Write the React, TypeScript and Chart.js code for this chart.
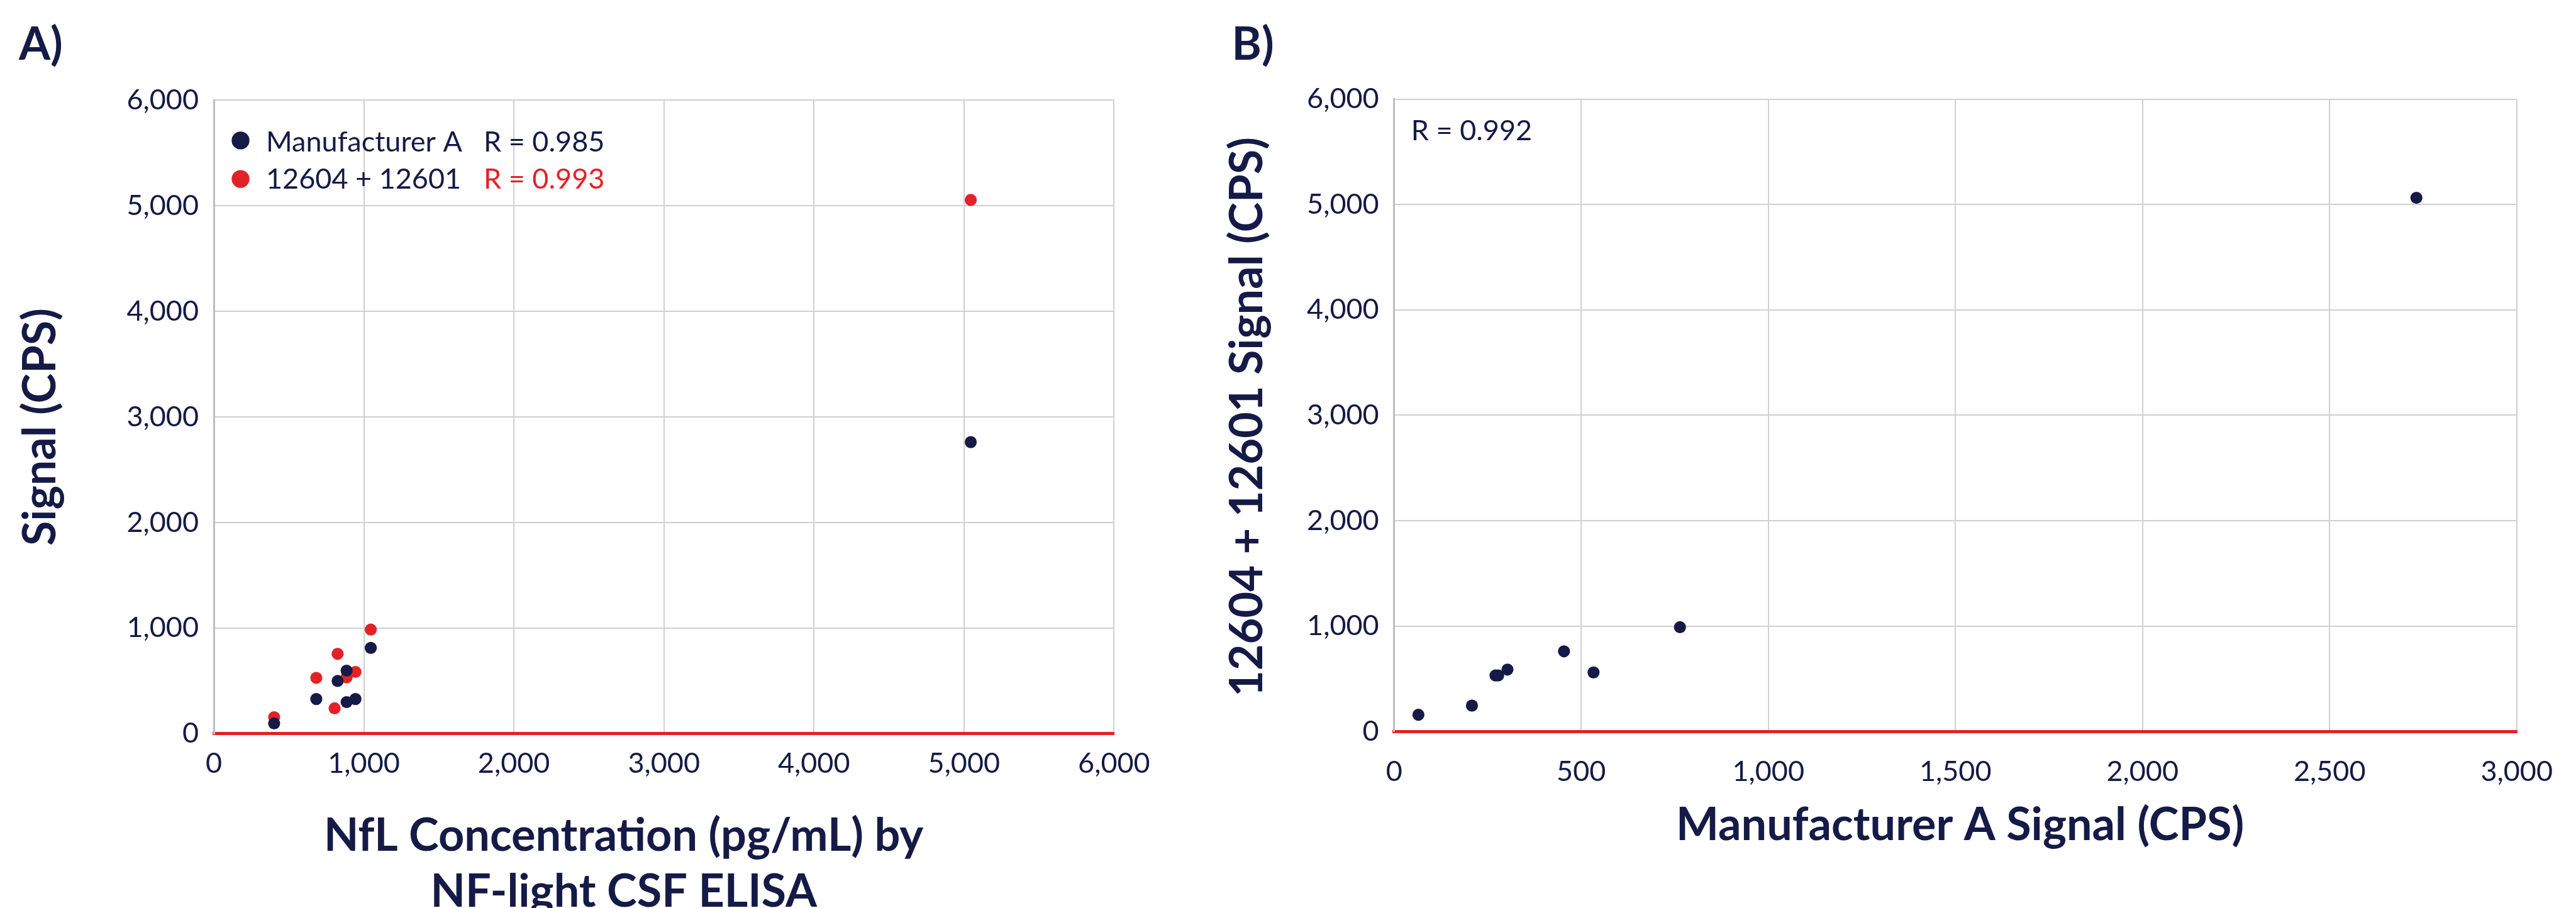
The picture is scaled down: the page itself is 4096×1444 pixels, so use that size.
import React, { useEffect, useRef } from "react";
import { Chart, registerables } from "chart.js";
Chart.register(...registerables);

// ---------- data ----------
// Chart A: NfL concentration (x) vs signal (y)
const concManufA = [402, 683, 825, 885, 885, 944, 1046, 5045];
const signalManufA = [98, 329, 500, 598, 300, 329, 813, 2762];
const conc12604 = [402, 683, 825, 885, 944, 805, 1046, 5045];
const signal12604 = [157, 529, 757, 534, 586, 241, 987, 5056];
// Chart B: Manufacturer A signal (x) vs 12604 + 12601 signal (y)
const bManufASignal = [65, 208, 271, 278, 303, 454, 533, 764, 2732];
const b12604Signal = [158, 245, 531, 531, 587, 760, 560, 989, 5064];
// ticks
const aXTicks = [0, 1000, 2000, 3000, 4000, 5000, 6000];
const aYTicks = [0, 1000, 2000, 3000, 4000, 5000, 6000];
const bXTicks = [0, 500, 1000, 1500, 2000, 2500, 3000];
const bYTicks = [0, 1000, 2000, 3000, 4000, 5000, 6000];
const seriesNames = ["Manufacturer A", "12604 + 12601"];
const rValuesA = ["R = 0.985", "R = 0.993"];
const rValueB = "R = 0.992";

// ---------- style ----------
const H = 1444;
const NAVY = "#151a46";
const RED = "#e32228";
const GRID = "#d0d0d0";
const AXIS = "#bcbebe";
const FONT = "Lato, 'Open Sans', sans-serif";
const TICK_SIZE = 45;
const TITLE_SIZE = 72;

const A_W = 1950;
const B_LEFT = 1900;
const B_W = 4096 - B_LEFT;

const A_AREA = { left: 340, right: 1771.4, top: 159.4, bottom: 1166.9 };
const B_AREA = { left: 2216.7 - B_LEFT, right: 4030.4 - B_LEFT, top: 157.7, bottom: 1163.2 };

const fmt = (v: any) => Number(v).toLocaleString("en-US");

function makeScale(
  axis: "x" | "y",
  ticksArr: number[],
  area: any,
  pad: number
): any {
  const isX = axis === "x";
  return {
    type: "linear",
    min: ticksArr[0],
    max: ticksArr[ticksArr.length - 1],
    afterBuildTicks: (s: any) => {
      s.ticks = ticksArr.map((v) => ({ value: v }));
    },
    afterFit: (s: any) => {
      if (isX) s.height = H - area.bottom;
      else s.width = area.left;
    },
    grid: {
      color: (c: any) => (c.tick && c.tick.value === 0 ? "rgba(0,0,0,0)" : GRID),
      lineWidth: 2,
      drawTicks: false,
    },
    border: isX ? { color: RED, width: 5 } : { color: AXIS, width: 3 },
    ticks: {
      color: NAVY,
      font: { family: FONT, size: TICK_SIZE },
      padding: pad,
      maxRotation: 0,
      autoSkip: false,
      callback: (v: any) => fmt(v),
    },
  };
}

function textPlugin(draw: (ctx: CanvasRenderingContext2D) => void) {
  return {
    id: "customTexts",
    afterDraw(chart: any) {
      const ctx = chart.ctx as CanvasRenderingContext2D;
      ctx.save();
      draw(ctx);
      ctx.restore();
    },
  };
}

function drawText(
  ctx: CanvasRenderingContext2D,
  text: string,
  x: number,
  y: number,
  opts: { size: number; bold?: boolean; color?: string; align?: CanvasTextAlign; rotate?: boolean }
) {
  ctx.save();
  ctx.font = `${opts.bold ? "bold " : ""}${opts.size}px ${FONT}`;
  ctx.fillStyle = opts.color || NAVY;
  ctx.textAlign = opts.align || "left";
  ctx.textBaseline = "alphabetic";
  ctx.translate(x, y);
  if (opts.rotate) ctx.rotate(-Math.PI / 2);
  ctx.fillText(text, 0, 0);
  ctx.restore();
}

function configA(): any {
  return {
    type: "scatter",
    data: {
      datasets: [
        {
          label: seriesNames[0],
          data: concManufA.map((x, i) => ({ x, y: signalManufA[i] })),
          backgroundColor: NAVY,
          borderWidth: 0,
          pointRadius: 9.6,
        },
        {
          label: seriesNames[1],
          data: conc12604.map((x, i) => ({ x, y: signal12604[i] })),
          backgroundColor: RED,
          borderWidth: 0,
          pointRadius: 9.6,
        },
      ],
    },
    options: {
      responsive: false,
      animation: false,
      devicePixelRatio: 1,
      events: [],
      layout: {
        padding: { left: 0, top: A_AREA.top, right: A_W - A_AREA.right, bottom: 0 },
      },
      plugins: { legend: { display: false }, tooltip: { enabled: false } },
      scales: {
        x: makeScale("x", aXTicks, A_AREA, 21),
        y: makeScale("y", aYTicks, A_AREA, 24),
      },
    },
    plugins: [
      textPlugin((ctx) => {
        drawText(ctx, "A)", 30, 95, { size: TITLE_SIZE, bold: true });
        // legend
        const rows = [
          { y: 241, dotY: 223.4, color: NAVY },
          { y: 300, dotY: 284.6, color: RED },
        ];
        rows.forEach((r, i) => {
          ctx.beginPath();
          ctx.fillStyle = r.color;
          ctx.arc(382.5, r.dotY, 14.2, 0, Math.PI * 2);
          ctx.fill();
          drawText(ctx, seriesNames[i], 423, r.y, { size: TICK_SIZE });
          drawText(ctx, rValuesA[i], 769, r.y, { size: TICK_SIZE, color: i === 0 ? NAVY : RED });
        });
        // axis titles
        drawText(ctx, "Signal (CPS)", 88.4, 679, { size: TITLE_SIZE, bold: true, align: "center", rotate: true });
        drawText(ctx, "NfL Concentration (pg/mL) by", 991.7, 1353.4, { size: TITLE_SIZE, bold: true, align: "center" });
        drawText(ctx, "NF-light CSF ELISA", 991.7, 1441.8, { size: TITLE_SIZE, bold: true, align: "center" });
      }),
    ],
  };
}

function configB(): any {
  return {
    type: "scatter",
    data: {
      datasets: [
        {
          label: "Samples",
          data: bManufASignal.map((x, i) => ({ x, y: b12604Signal[i] })),
          backgroundColor: NAVY,
          borderWidth: 0,
          pointRadius: 9.6,
        },
      ],
    },
    options: {
      responsive: false,
      animation: false,
      devicePixelRatio: 1,
      events: [],
      layout: {
        padding: { left: 0, top: B_AREA.top, right: B_W - B_AREA.right, bottom: 0 },
      },
      plugins: { legend: { display: false }, tooltip: { enabled: false } },
      scales: {
        x: makeScale("x", bXTicks, B_AREA, 37),
        y: makeScale("y", bYTicks, B_AREA, 24),
      },
    },
    plugins: [
      textPlugin((ctx) => {
        drawText(ctx, "B)", 1958.6 - B_LEFT, 95, { size: TITLE_SIZE, bold: true });
        drawText(ctx, rValueB, 2243.8 - B_LEFT, 222.7, { size: TICK_SIZE });
        drawText(ctx, "12604 + 12601 Signal (CPS)", 2007 - B_LEFT, 663, {
          size: TITLE_SIZE,
          bold: true,
          align: "center",
          rotate: true,
        });
        drawText(ctx, "Manufacturer A Signal (CPS)", 3116.6 - B_LEFT, 1335.5, {
          size: TITLE_SIZE,
          bold: true,
          align: "center",
        });
      }),
    ],
  };
}

function ChartCanvas({ left, width, makeConfig }: { left: number; width: number; makeConfig: () => any }) {
  const ref = useRef<HTMLCanvasElement | null>(null);
  useEffect(() => {
    if (!ref.current) return;
    const chart = new Chart(ref.current, makeConfig());
    return () => chart.destroy();
  }, []);
  return (
    <canvas
      ref={ref}
      width={width}
      height={H}
      style={{ position: "absolute", left, top: 0, width, height: H, display: "block" }}
    />
  );
}

export default function App() {
  return (
    <div
      style={{
        position: "absolute",
        left: 0,
        top: 0,
        width: 4096,
        height: H,
        background: "#ffffff",
        overflow: "hidden",
      }}
    >
      <ChartCanvas left={0} width={A_W} makeConfig={configA} />
      <ChartCanvas left={B_LEFT} width={B_W} makeConfig={configB} />
    </div>
  );
}
